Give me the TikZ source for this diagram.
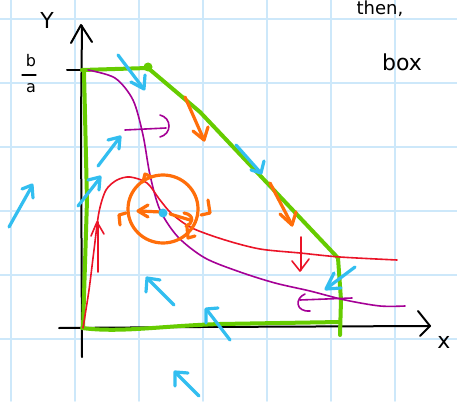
\documentclass[tikz,border=0pt]{standalone}
\usepackage{fontspec}
\setmainfont{DejaVu Sans}
\begin{document}
\begin{tikzpicture}[x=1pt,y=-1pt,line cap=round,line join=round,
  grid/.style={draw=gridblue,line width=1.5pt},
  axis/.style={draw=black,line width=2pt},
  green/.style={draw=sgreen,line width=4pt},
  bl/.style={draw=sblue,line width=3.2pt},
  org/.style={draw=sorange,line width=3.2pt},
  mag/.style={draw=smag,line width=1.6pt},
  rd/.style={draw=sred,line width=1.6pt},
  hand/.style={font=\fontsize{22}{24}\selectfont}]
\definecolor{gridblue}{RGB}{205,232,250}
\definecolor{sgreen}{RGB}{102,204,0}
\definecolor{sblue}{RGB}{50,190,240}
\definecolor{sorange}{RGB}{255,110,10}
\definecolor{smag}{RGB}{165,0,150}
\definecolor{sred}{RGB}{235,20,40}
\clip (0,0) rectangle (457,401);
\fill[white] (0,0) rectangle (457,401);
% grid
\foreach \gx in {11,75,139,203,267,331,395} \draw[grid] (\gx,0) -- (\gx,401);
\foreach \gy in {19,83,147,211,275,339} \draw[grid] (0,\gy) -- (457,\gy);
% axes
\draw[axis] (82,357) -- (81,120) -- (82,26);
\draw[axis] (71,43) -- (81,25) -- (92,42);
\draw[axis] (59,328) -- (200,327) -- (430,326);
\draw[axis] (418,311) -- (430,326) -- (420,336);
\draw[axis] (67,70) -- (82,70);
% labels
\node[hand] (ylab) at (47,20) {Y};
\node[hand] (xlab) at (444,342) {x};
\node[hand,font=\fontsize{16}{17}\selectfont] (bnum) at (31,61) {b};
\draw[axis,line width=1.3pt] (22,75) -- (36,75);
\node[hand,font=\fontsize{16}{17}\selectfont] (aden) at (31,88) {a};
\node[hand,font=\fontsize{18}{20}\selectfont] (then) at (380,9) {then,};
\node[hand] (box) at (402,62) {box};
% green region
\draw[green] (82,70) -- (148,68);
\fill[sgreen] (148,67) circle (4.5);
\draw[green] (148,68) -- (200,112) -- (270,186) -- (338,258);
\draw[green] (338,258) -- (341,300) -- (340,335);
\draw[green] (82,328) .. controls (120,333) and (160,326) .. (220,324) -- (340,322);
\draw[green] (84,72) -- (87,200) -- (83,328);
% magenta curve
\draw[mag] plot[smooth] coordinates {(88,70) (115,78) (133,100) (143,135) (150,175) (160,210) (178,237) (205,258) (240,272) (275,283) (310,291) (345,300) (380,306) (405,306)};
% red curve
\draw[rd] plot[smooth] coordinates {(83,328) (89,290) (94,250) (99,212) (106,190) (117,180) (130,177) (147,183) (160,200) (172,214) (192,228) (225,240) (260,249) (300,253) (340,257) (397,260)};
% magenta arrows
\draw[mag] (125,130) -- (166,128);
\draw[mag] (160,115) .. controls (172,118) and (172,134) .. (160,137);
\draw[mag] (300,300) -- (352,298);
\draw[mag] (305,294) .. controls (295,298) and (295,312) .. (310,311);
% red arrows
\draw[rd] (98,272) -- (98,222);
\draw[rd] (91,236) -- (97,222) -- (104,234);
\draw[rd] (301,237) -- (301,270);
\draw[rd] (292,261) -- (300,271) -- (309,259);
% orange circle and arrows
\draw[org] (163,209) ellipse (35 and 34);
\draw[org] (185,97) -- (204,140);
\draw[org] (193,131) -- (204,140) -- (208,127);
\draw[org] (270,183) -- (292,225);
\draw[org] (280,214) -- (292,225) -- (296,212);
\draw[org] (161,212) -- (139,211);
\draw[org] (148,205) -- (138,211) -- (148,217);
\draw[org] (170,214) -- (190,220);
\draw[org] (184,213) .. controls (196,215) and (192,225) .. (186,226);
\draw[org] (143,182) -- (145,174) -- (152,177);
\draw[org] (208,200) -- (210,213) -- (201,215);
\draw[org] (187,227) -- (188,238) -- (195,236);
\draw[org] (120,225) -- (119,215) -- (126,213);
% blue arrows
\fill[sblue] (163,213) circle (4.5);
\draw[bl] (118,55) -- (143,88);
\draw[bl] (131,82) -- (144,89) -- (145,75);
\draw[bl] (98,166) -- (120,137);
\draw[bl] (108,140) -- (120,137) -- (119,149);
\draw[bl] (78,206) -- (100,178);
\draw[bl] (88,180) -- (100,177) -- (99,190);
\draw[bl] (9,227) -- (32,186);
\draw[bl] (22,189) -- (32,185) -- (33,198);
\draw[bl] (236,145) -- (260,172);
\draw[bl] (251,170) -- (261,173) -- (264,161);
\draw[bl] (355,267) -- (327,288);
\draw[bl] (334,273) -- (326,289) -- (341,288);
\draw[bl] (174,305) -- (148,279);
\draw[bl] (146,292) -- (147,278) -- (160,280);
\draw[bl] (230,340) -- (207,310);
\draw[bl] (206,323) -- (206,309) -- (218,308);
\draw[bl] (199,396) -- (176,373);
\draw[bl] (175,386) -- (175,372) -- (188,373);
\end{tikzpicture}
\end{document}
